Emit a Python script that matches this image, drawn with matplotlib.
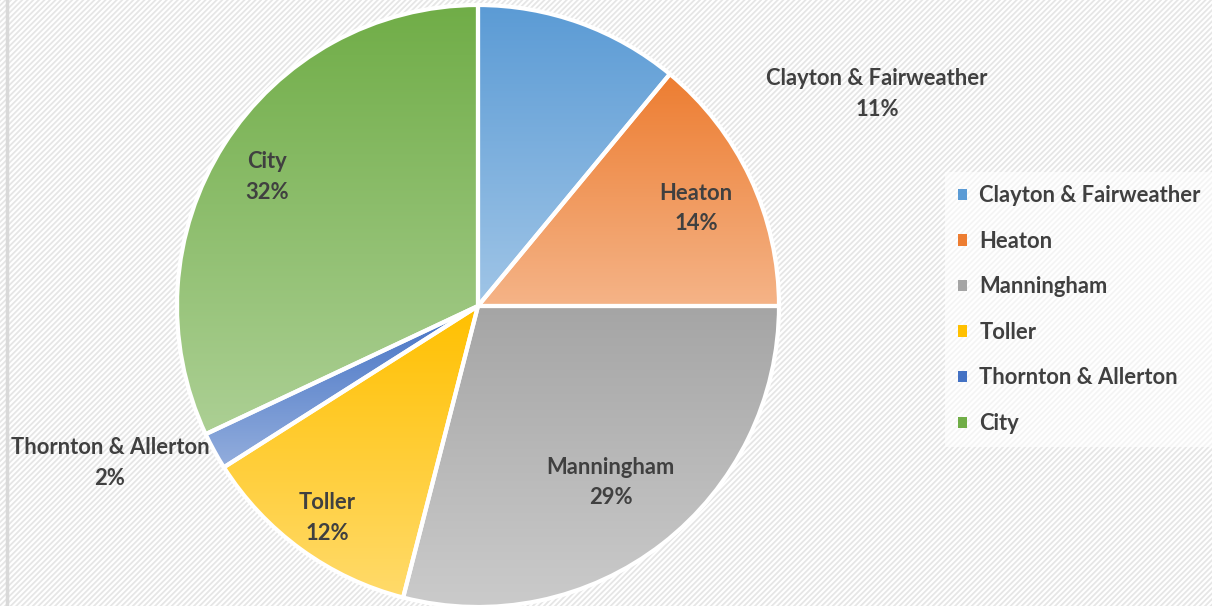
import numpy as np
import matplotlib.pyplot as plt
from matplotlib.colors import to_rgb
from matplotlib.patches import Rectangle, Patch

areas = ["Clayton & Fairweather", "Heaton", "Manningham", "Toller",
         "Thornton & Allerton", "City"]
shares = [11, 14, 29, 12, 2, 32]
colors = ["#5B9BD5", "#ED7D31", "#A5A5A5", "#FFC000", "#4472C4", "#70AD47"]

plt.rcParams["font.family"] = ["Lato", "DejaVu Sans"]
plt.rcParams["hatch.linewidth"] = 1.3
txt_color = "#404040"
fs = 15.8

fig = plt.figure(figsize=(12.12, 6.06), dpi=100)
ax = fig.add_axes([0, 0, 1, 1])

# hatched chart background + left border
ax.add_patch(Rectangle((0, 0), 1212, 606, facecolor="white", edgecolor="#E6E6E6",
                       hatch="//////", linewidth=0, zorder=0))
ax.plot([7, 7], [0, 606], color="#D9D9D9", lw=2.5, zorder=1)

cx, cy, R = 478, 300, 301
wedges, _ = ax.pie(shares, startangle=90, counterclock=False, center=(cx, cy),
                   radius=R, frame=True,
                   wedgeprops=dict(facecolor="none", edgecolor="white", linewidth=3))
ax.set_xlim(0, 1212)
ax.set_ylim(0, 606)
ax.axis("off")

for w, c in zip(wedges, colors):
    w.set_zorder(4)
    base = np.array(to_rgb(c))
    light = base + (1 - base) * 0.42
    t = np.linspace(0, 1, 256)[:, None]
    grad = light * (1 - t) + base * t
    ext = w.get_path().get_extents()
    im = ax.imshow(grad[:, None, :], extent=[ext.x0, ext.x1, ext.y0, ext.y1],
                   origin="lower", aspect="auto", zorder=3, interpolation="bilinear")
    im.set_clip_path(w)

# data labels
label_r = [None, 0.80, 0.72, 0.85, None, 0.83]
outside = {0: (877, 512), 4: (110, 143)}
cum = np.cumsum([0] + shares)
for i, (name, v) in enumerate(zip(areas, shares)):
    if i in outside:
        x, y = outside[i]
    else:
        ang = np.deg2rad(90 - (cum[i] + v / 2) / 100 * 360)
        x = cx + label_r[i] * R * np.cos(ang)
        y = cy + label_r[i] * R * np.sin(ang) - 5
    ax.text(x, y, f"{name}\n{v}%", ha="center", va="center", fontsize=fs,
            fontweight="bold", color=txt_color, linespacing=1.55, zorder=6)

handles = [Patch(facecolor=c, edgecolor="none") for c in colors]
leg = ax.legend(handles, areas, loc="upper left", bbox_to_anchor=(945 / 1212, 434 / 606),
                frameon=True, fontsize=fs, handlelength=0.42, handleheight=0.42,
                handletextpad=0.55, labelspacing=1.12, borderpad=0.6,
                borderaxespad=0)
leg.get_frame().set_facecolor("white")
leg.get_frame().set_alpha(0.6)
leg.get_frame().set_edgecolor("none")
leg.get_frame().set_boxstyle("square", pad=0)
for t in leg.get_texts():
    t.set_color(txt_color)
    t.set_fontweight("bold")

fig.savefig("out.png", dpi=100)
